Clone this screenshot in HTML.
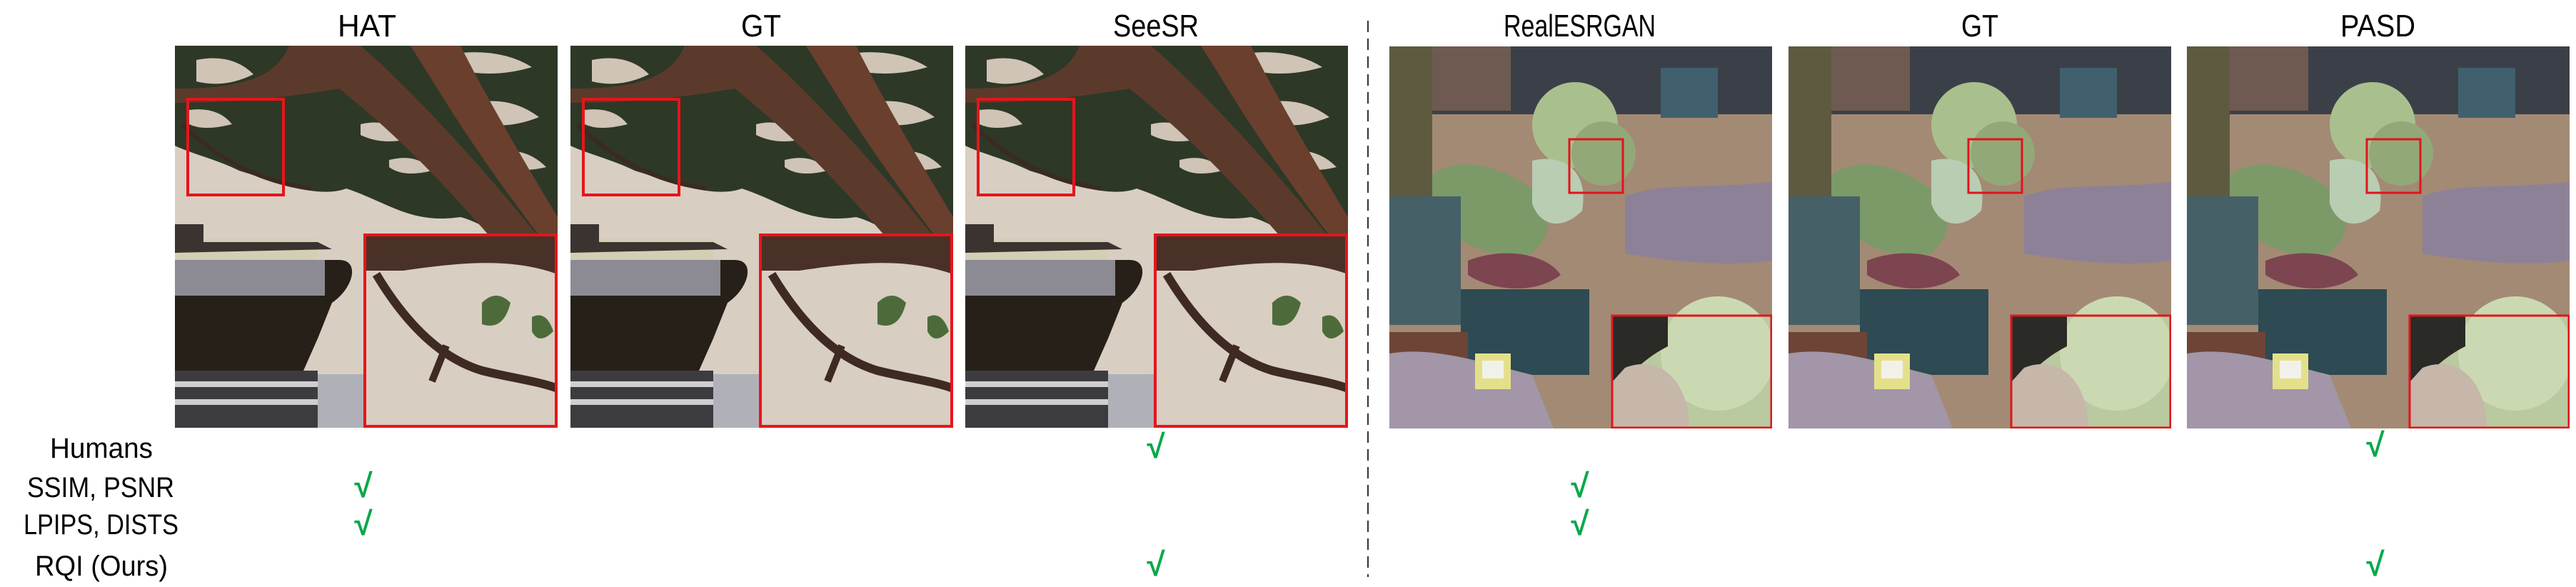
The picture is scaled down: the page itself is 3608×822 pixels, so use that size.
<!DOCTYPE html>
<html><head><meta charset="utf-8"><style>
html,body{margin:0;padding:0;background:#fff;}
body{width:3608px;height:822px;overflow:hidden;position:relative;}
svg{position:absolute;left:0;top:0;}
text{font-family:"Liberation Sans",sans-serif;}
</style></head><body>
<svg width="3608" height="822" viewBox="0 0 3608 822" xmlns="http://www.w3.org/2000/svg">
<defs>
<clipPath id="pc"><rect x="0" y="0" width="536" height="535"/></clipPath>
<g id="tree">
 <g clip-path="url(#pc)">
 <rect width="536" height="535" fill="#d8cec2"/>
 <path d="M0 0 H536 V300 C480 290 440 250 400 240 C330 250 300 220 240 200 C200 215 140 190 90 175 C60 160 20 150 0 140 Z" fill="#2e3826"/>
 <path d="M30 20 Q80 10 110 40 Q70 60 30 50Z M150 30 Q200 20 230 50 Q190 70 150 55Z M400 10 Q460 5 500 30 Q450 45 400 35Z M420 80 Q470 70 510 100 Q460 120 420 105Z M260 110 Q300 100 330 130 Q290 140 260 125Z M20 90 Q60 85 80 110 Q40 120 20 110Z M300 160 Q340 150 360 175 Q320 185 300 170Z M450 150 Q490 140 520 170 Q480 180 450 165Z" fill="#cfc4b6"/>
 <path d="M160 0 L260 0 C330 60 420 160 470 220 L536 300 L536 320 L470 300 C400 220 330 140 230 60 C170 70 100 80 0 80 L0 60 C80 60 140 50 160 0Z" fill="#5b3a2c"/>
 <path d="M330 0 L400 0 C440 80 500 180 536 240 L536 300 C490 240 430 160 380 80Z" fill="#6a3f2e"/>
 <path d="M10 110 C60 160 120 190 190 200" stroke="#3a2a22" stroke-width="6" fill="none"/>
 <rect x="0" y="270" width="200" height="40" fill="#d3cfb4"/>
 <path d="M0 250 L40 250 L40 275 L200 275 L220 285 L0 290Z" fill="#3a3330"/>
 <path d="M0 300 L230 300 C260 300 250 340 220 360 L200 410 L180 455 L0 455Z" fill="#272019"/>
 <rect x="0" y="300" width="210" height="50" fill="#8c8a92"/>
 <rect x="0" y="455" width="200" height="80" fill="#3c3c40"/>
 <rect x="0" y="470" width="200" height="8" fill="#cfcfd2"/>
 <rect x="0" y="495" width="200" height="8" fill="#cfcfd2"/>
 <rect x="200" y="460" width="100" height="75" fill="#b0b0b8"/>
 <rect x="266" y="265" width="270" height="270" fill="#d8cec2"/>
 <path d="M266 265 H536 V320 C480 300 420 300 320 315 L266 315Z" fill="#4a3128"/>
 <path d="M282 320 C330 400 380 440 430 455 C470 465 510 470 536 480" stroke="#3e2a22" stroke-width="12" fill="none"/>
 <path d="M380 420 L360 470" stroke="#3e2a22" stroke-width="10"/>
 <path d="M430 360 q20 -20 40 0 q-10 40 -40 30z M500 380 q20 -10 30 20 q-20 20 -30 0z" fill="#4d6b3a"/>
 <rect x="18" y="75" width="134" height="134" fill="none" stroke="#e8141b" stroke-width="4"/>
 <rect x="266" y="265" width="268" height="268" fill="none" stroke="#e8141b" stroke-width="4"/>
 </g>
</g>
<g id="succ">
 <g clip-path="url(#pc)">
 <rect width="536" height="535" fill="#a38a74"/>
 <rect width="536" height="95" fill="#3b4048"/>
 <rect x="60" y="0" width="110" height="90" fill="#6e5a50"/>
 <rect x="380" y="30" width="80" height="70" fill="#40606e"/>
 <path d="M0 0 H60 V240 H0Z" fill="#5e5a40"/>
 <circle cx="260" cy="110" r="60" fill="#a9c08e"/>
 <circle cx="300" cy="150" r="45" fill="#93a878"/>
 <path d="M60 180 C100 150 160 170 200 200 C230 240 230 260 200 290 C150 300 100 280 60 240Z" fill="#7c9a68"/>
 <path d="M200 160 C240 150 280 170 270 230 C240 260 210 250 200 220Z" fill="#b8cdb2"/>
 <path d="M110 300 C160 280 220 290 240 320 C200 350 140 340 110 320Z" fill="#7c4550"/>
 <path d="M0 210 H100 V390 H0Z" fill="#466068"/>
 <path d="M330 210 C380 190 440 200 536 190 V300 C470 310 390 300 330 290Z" fill="#8d8198"/>
 <rect x="100" y="340" width="180" height="120" fill="#2e4a52"/>
 <rect x="0" y="400" width="110" height="70" fill="#6e4436"/>
 <path d="M0 430 C60 420 120 440 200 460 L230 535 L0 535Z" fill="#a296a8"/>
 <rect x="120" y="430" width="50" height="50" fill="#e4e08a"/>
 <rect x="130" y="440" width="30" height="25" fill="#f1f1ea"/>
 <rect x="312" y="377" width="224" height="158" fill="#b9c9a0"/>
 <circle cx="460" cy="430" r="80" fill="#cbd9b2"/>
 <path d="M312 377 H390 V420 C350 440 330 470 312 480Z" fill="#2a2a26"/>
 <path d="M330 450 C380 430 420 470 420 535 H312 V470Z" fill="#c7b6aa"/>
 <rect x="252" y="130" width="75" height="75" fill="none" stroke="#e0141b" stroke-width="3"/>
 <rect x="312" y="377" width="223" height="157" fill="none" stroke="#e0141b" stroke-width="3"/>
 </g>
</g>
</defs>
<use href="#tree" x="245" y="64"/>
<use href="#tree" x="799" y="64"/>
<use href="#tree" x="1352" y="64"/>
<use href="#succ" x="1946" y="65"/>
<use href="#succ" x="2505" y="65"/>
<use href="#succ" x="3063" y="65"/>
<line x1="1916" y1="29" x2="1916" y2="808" stroke="#333" stroke-width="2" stroke-dasharray="16,9"/>
<g font-size="44" fill="#000" lengthAdjust="spacingAndGlyphs">
 <text x="473" y="51" textLength="82" lengthAdjust="spacingAndGlyphs">HAT</text>
 <text x="1038" y="51" textLength="56" lengthAdjust="spacingAndGlyphs">GT</text>
 <text x="1559" y="51" textLength="120" lengthAdjust="spacingAndGlyphs">SeeSR</text>
 <text x="2106" y="51" textLength="213" lengthAdjust="spacingAndGlyphs">RealESRGAN</text>
 <text x="2747" y="51" textLength="52" lengthAdjust="spacingAndGlyphs">GT</text>
 <text x="3278" y="51" textLength="105" lengthAdjust="spacingAndGlyphs">PASD</text>
</g>
<g font-size="40" fill="#000">
 <text x="70" y="641" textLength="144" lengthAdjust="spacingAndGlyphs">Humans</text>
 <text x="38" y="696" textLength="206" lengthAdjust="spacingAndGlyphs">SSIM, PSNR</text>
 <text x="33" y="748" textLength="217" lengthAdjust="spacingAndGlyphs">LPIPS, DISTS</text>
 <text x="49" y="806" textLength="186" lengthAdjust="spacingAndGlyphs">RQI (Ours)</text>
</g>
<g font-size="46" font-weight="bold" text-anchor="middle" fill="#0aa84a">
 <text x="1619" y="641">√</text>
 <text x="1619" y="806">√</text>
 <text x="509" y="696">√</text>
 <text x="509" y="749">√</text>
 <text x="2213" y="696">√</text>
 <text x="2213" y="749">√</text>
 <text x="3327" y="639">√</text>
 <text x="3327" y="806">√</text>
</g>
</svg>
</body></html>
